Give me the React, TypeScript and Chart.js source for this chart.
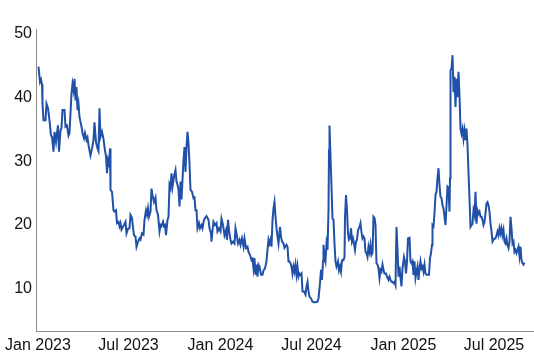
import React, { useEffect, useRef } from 'react';
import { Chart, registerables } from 'chart.js';

Chart.register(...registerables);

// x values: days since 2023-01-01
const days = [
  1, 4, 6, 8, 9, 11, 15, 17, 20, 23, 26, 28, 31, 33, 36, 38, 40, 42, 45, 47, 49, 53, 55, 58, 61, 63, 67, 69, 71, 73, 75, 77, 79, 81, 83, 87, 89, 92, 94, 97, 99, 101, 105, 108, 111, 113, 116, 119, 121, 123,
  125, 128, 131, 133, 136, 138, 140, 142, 144, 145, 148, 151, 153, 156, 158, 161, 163, 165, 167, 169, 172, 175, 177, 180, 183, 185, 188, 190, 192, 195, 197, 200, 203, 205, 208, 211, 213, 216, 218, 220, 222, 225, 227, 229, 232, 235, 237, 240, 243, 245,
  247, 250, 252, 254, 256, 259, 261, 263, 265, 267, 269, 272, 275, 277, 279, 281, 283, 285, 287, 289, 291, 293, 295, 297, 299, 301, 303, 305, 308, 311, 313, 315, 317, 319, 322, 324, 327, 329, 332, 335, 337, 341, 343, 346, 347, 349, 351, 354, 357, 359, 362, 365, 367, 370,
  373, 376, 378, 380, 382, 385, 387, 390, 393, 395, 397, 400, 403, 405, 408, 411, 413, 416, 419, 421, 424, 427, 429, 431, 433, 435, 437, 439, 441, 443, 446, 449, 451, 454, 457, 459, 461, 463, 465, 467, 469, 471, 473, 475, 477, 479, 481, 484, 486, 488, 491, 493,
  497, 499, 501, 503, 505, 507, 509, 511, 513, 515, 517, 519, 521, 523, 525, 527, 529, 532, 535, 537, 539, 541, 543, 546, 549, 552, 555, 559, 561, 564, 566, 568, 570, 571, 573, 575, 577, 579, 581, 582, 583, 585, 587, 589, 591, 593, 595, 597, 600, 602, 604, 606, 608, 611, 613, 614, 616, 618,
  620, 622, 624, 626, 628, 630, 632, 634, 636, 638, 640, 643, 645, 647, 649, 651, 653, 655, 657, 659, 661, 663, 665, 667, 669, 671, 673, 675, 677, 679, 681, 683, 685, 687, 689, 691, 693, 696, 698, 701, 703, 705, 707, 709, 711, 713, 715, 717, 719, 721, 723, 725, 727, 729, 732, 734, 736, 738, 740, 743,
  745, 747, 749, 751, 753, 755, 757, 759, 761, 763, 765, 767, 769, 771, 773, 775, 777, 780, 782, 784, 786, 788, 789, 791, 793, 795, 797, 799, 801, 803, 805, 807, 809, 811, 813, 815, 817, 819, 821, 823, 824, 825, 827, 829, 831, 833, 835, 837, 839, 841, 843, 845, 847, 849, 851, 853, 855, 857, 859, 861, 863, 865,
  869, 871, 873, 875, 877, 879, 881, 883, 885, 887, 889, 891, 893, 895, 897, 899, 901, 903, 905, 907, 909, 911, 913, 915, 917, 919, 921, 923, 925, 927, 929, 931, 933, 935, 937, 939, 941, 943, 945, 947, 949, 951, 953, 955, 957, 959, 961, 963, 965, 967, 969, 971, 973,
];

const values = [
  44.8, 42.4, 42.8, 42, 39.1, 36.4, 36.4, 39, 38.3, 36.4, 34, 33.8, 31.5, 34.6, 33, 34.4, 35.6, 31.5, 34.8, 35.2, 38, 38, 35.4, 35.6, 34, 34.4, 40.6, 42.1, 41.1, 42.9, 39.5, 41.6, 38, 39, 36.9, 35.4, 34.4, 33.6, 34.4, 33.3, 33.7, 32.5, 30.9, 32, 33.3, 36.1, 33, 32, 31.6, 38.3,
  33.8, 34.6, 33.5, 32.2, 30.7, 28.1, 30.2, 29.6, 32, 25.5, 25.2, 22.3, 22.1, 22.3, 20.3, 20.5, 19.8, 20.3, 19.3, 19.6, 20, 20.5, 18.7, 19.4, 19.5, 21.6, 21.1, 19.6, 18.4, 18.2, 16.6, 17.4, 17.9, 17.7, 18.7, 18.5, 20.8, 22.3, 21.6, 22.6, 21.3, 22.1, 25.7, 24.7, 23.6, 24.3, 22.3, 21.6, 19, 20,
  19.8, 20.5, 19.8, 20, 18.4, 20.8, 21.3, 26.3, 25.8, 28.1, 26, 27.6, 28.6, 26.8, 26.3, 25.5, 22.9, 26.8, 24, 27.1, 30.2, 32.2, 28.3, 32.2, 34.6, 32.8, 29.6, 25.5, 25.2, 24.2, 24.3, 22.3, 22.3, 19.5, 20.3, 19.5, 20, 19.5, 20.8, 21.2, 21.4, 20.8, 19.5, 18.7, 17.4, 19.2, 20.5, 20, 20.3, 19, 19.5, 19, 21, 20,
  18.4, 19.2, 17.7, 20.8, 19.2, 17.7, 17.1, 17.4, 17.1, 19.5, 18.7, 17.1, 17.7, 16.9, 17.9, 16.6, 17.9, 16.4, 16.6, 15.8, 15.3, 14.5, 14.7, 13.2, 14.8, 12.2, 13.8, 11.9, 13.8, 13.5, 12.2, 12.2, 12.9, 13.2, 14.3, 16.1, 17.7, 17.1, 17.7, 16.6, 20.8, 22.6, 23.6, 21.3, 19.5, 18.2, 17.1, 19.7, 18.2, 17.4, 17.1, 16.4,
  16.9, 16.6, 14.3, 14.3, 14, 13.5, 12.4, 13.5, 12.7, 13.8, 12.2, 13.5, 11.9, 12.4, 12.2, 12.4, 9.6, 9.6, 9.1, 10.4, 11.1, 9.6, 8.8, 8.5, 8.0, 7.9, 7.9, 8.0, 8.5, 10.9, 13, 11.4, 14.3, 16.9, 15, 14.3, 17.1, 16.1, 22.3, 31.7, 35.6, 30.7, 26, 21, 20.8, 17.1, 14.3, 13.5, 14.3, 12.9, 13.5, 12.7, 14.5, 14.5, 15, 21.3, 24.7, 22.3,
  18.7, 17.7, 17.9, 19.5, 17.4, 17.9, 17.1, 16.1, 17.4, 17.7, 19.2, 19.7, 20.3, 18.9, 17.9, 18.2, 17.9, 15.8, 15.6, 15, 16.6, 15.8, 16.9, 15.3, 15.6, 21.3, 21.1, 20, 14, 13.8, 13.2, 11.7, 13, 12.7, 13.8, 13, 12.4, 12.4, 11.9, 11.4, 11.9, 11.4, 11.1, 11.1, 10.9, 11.1, 10.6, 19.7, 16.1, 11.9, 13.5, 11.7, 10.4, 13.2, 15, 14.3, 12.4, 14.3, 17.9, 18,
  14.3, 14, 14.3, 12.2, 14.3, 11.7, 12.7, 13.5, 11.4, 13.2, 14.3, 13.2, 13.5, 12.7, 13.8, 12.4, 12.2, 12.2, 12.2, 14.8, 15.6, 16.9, 20, 19.8, 21.8, 24.7, 25.2, 27.3, 28.9, 26.3, 24.4, 24.2, 23.1, 22.6, 21.3, 20, 23.1, 26, 25.8, 22.1, 27.3, 44.2, 44.5, 46.6, 40.8, 43.2, 38.5, 42.9, 40, 44, 40.3, 35.1, 34.3, 35.1, 33.5, 34.8, 33.3, 35.1, 32.5, 28.3, 24.2, 19.7,
  20.2, 22.3, 21.6, 25.2, 20.2, 22.3, 21.8, 22.1, 21.3, 21.3, 20.8, 20, 20.5, 21.8, 23.4, 23.6, 23.1, 22.1, 20.2, 19, 17.4, 17.7, 17.9, 17.9, 18.4, 19, 18.4, 19.5, 18.7, 19.5, 18.4, 19.2, 17.4, 17.1, 17.9, 16.9, 16.4, 17.4, 21.3, 19.5, 17.1, 17.4, 15.8, 16.1, 15.6, 16.1, 16.6, 15.1, 16.6, 14.5, 14, 13.8, 14.1,
];

const tickDays = [0, 181, 365, 547, 731, 912];
const tickLabels = ['Jan 2023', 'Jul 2023', 'Jan 2024', 'Jul 2024', 'Jan 2025', 'Jul 2025'];
const yTicks = [10, 20, 30, 40, 50];

export default function App() {
  const ref = useRef<HTMLCanvasElement>(null);

  useEffect(() => {
    document.body.style.margin = '0';
    const canvas = ref.current;
    if (!canvas) return;
    const font = { family: '"Liberation Sans", Arial, Helvetica, sans-serif', size: 16 };
    const chart = new Chart(canvas, {
      type: 'line',
      data: {
        datasets: [
          {
            data: days.map((d, i) => ({ x: d, y: values[i] })),
            borderColor: '#2050a8',
            borderWidth: 2,
            pointRadius: 0,
            tension: 0,
            fill: false,
          },
        ],
      },
      options: {
        animation: false,
        responsive: true,
        maintainAspectRatio: false,
        layout: { padding: { top: 29, left: 0, right: 0, bottom: 0 } },
        plugins: { legend: { display: false }, tooltip: { enabled: false } },
        scales: {
          x: {
            type: 'linear',
            min: -4,
            max: 992,
            grid: { display: false, drawTicks: false },
            border: { display: true, color: '#8c8c8c', width: 1 },
            ticks: {
              padding: 5,
              color: '#111',
              font,
              maxRotation: 0,
              autoSkip: false,
              callback: (v: any) => {
                const i = tickDays.indexOf(Number(v));
                return i >= 0 ? tickLabels[i] : '';
              },
            },
            afterBuildTicks: (s: any) => {
              s.ticks = tickDays.map((v) => ({ value: v }));
            },
            afterFit: (s: any) => {
              s.height = 28;
              s.paddingLeft = 0;
              s.paddingRight = 0;
            },
          },
          y: {
            type: 'linear',
            min: 3.4,
            max: 50.7,
            grid: { display: false, drawTicks: false },
            border: { display: true, color: '#8c8c8c', width: 1 },
            ticks: {
              padding: 4,
              color: '#111',
              font,
            },
            afterBuildTicks: (s: any) => {
              s.ticks = yTicks.map((v) => ({ value: v }));
            },
            afterFit: (s: any) => {
              s.width = 36;
              s.paddingTop = 0;
              s.paddingBottom = 0;
            },
          },
        },
      },
    });
    return () => chart.destroy();
  }, []);

  return (
    <div style={{ width: 534, height: 359, position: 'relative' }}>
      <canvas ref={ref} />
    </div>
  );
}
